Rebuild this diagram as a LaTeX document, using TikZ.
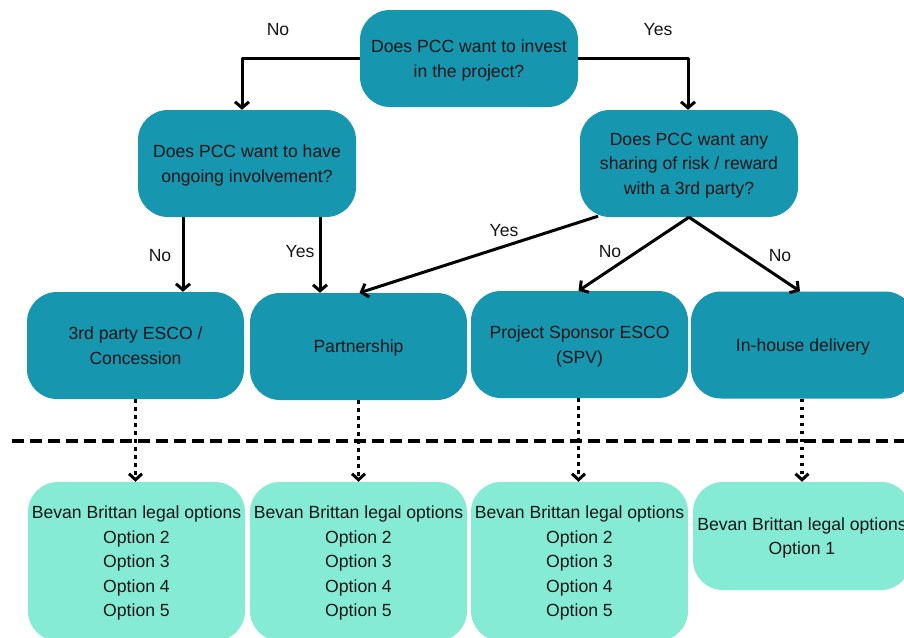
\documentclass[tikz,border=0pt]{standalone}
\usepackage{fontspec}
\setmainfont{Liberation Sans}
\usetikzlibrary{arrows.meta}
\definecolor{tealbox}{HTML}{1796B0}
\definecolor{mintbox}{HTML}{86EBD5}
\definecolor{ink}{HTML}{161616}
\begin{document}
\begin{tikzpicture}[x=1pt,y=-1pt,
  txt/.style={font=\fontsize{17.6}{24.5}\selectfont, text=ink, align=center, text depth=-1.5pt},
  qbox/.style={txt, fill=tealbox, rounded corners=30pt, inner sep=0pt, minimum width=218pt, minimum height=107pt},
  obox/.style={txt, fill=mintbox, rounded corners=30pt, inner sep=0pt, minimum width=217pt, minimum height=159pt},
  lbl/.style={font=\fontsize{17.6}{20}\selectfont, text=ink},
  arr/.style={line width=3pt, line join=round, -{Straight Barb[length=6pt,width=14pt,line width=3pt]}},
  darr/.style={line width=3.8pt, dash pattern=on 3.5pt off 4.5pt, -{Straight Barb[length=6pt,width=13pt,line width=3pt]}},
]
\clip (0,0) rectangle (904,637);
\fill[white] (0,0) rectangle (904,637);

% question boxes
\node[qbox, minimum height=97pt] (q0) at (469,58.5) {Does PCC want to invest\\in the project?};
\node[qbox] (q1) at (247,163.5) {Does PCC want to have\\ongoing involvement?};
\node[qbox] (q2) at (689,163.5) {Does PCC want any\\sharing of risk / reward\\with a 3rd party?};

% outcome boxes
\node[qbox, minimum width=217pt] (a) at (135.5,345.5) {3rd party ESCO /\\Concession};
\node[qbox, minimum width=217pt] (b) at (358.5,346.5) {Partnership};
\node[qbox, minimum width=217pt] (c) at (579.5,344.5) {Project Sponsor ESCO\\(SPV)};
\node[qbox, minimum width=224pt] (d) at (803,345) {In-house delivery};

% option boxes
\node[obox] (e) at (136.5,561.5) {Bevan Brittan legal options\\Option 2\\Option 3\\Option 4\\Option 5};
\node[obox] (f) at (358.5,561.5) {Bevan Brittan legal options\\Option 2\\Option 3\\Option 4\\Option 5};
\node[obox] (g) at (579.5,561.5) {Bevan Brittan legal options\\Option 2\\Option 3\\Option 4\\Option 5};
\node[obox, minimum width=218pt, minimum height=108pt] (h) at (802,536) {Bevan Brittan legal options\\Option 1};

% connectors
\draw[arr] (q0.west) -| ([xshift=-5pt]q1.north);
\draw[arr] (q0.east) -| ([xshift=-1pt]q2.north);
\draw[arr] ([xshift=-64pt]q1.south) -- ([xshift=-64pt]q1.south |- a.north);
\draw[arr] ([xshift=73pt]q1.south) -- ([xshift=73pt]q1.south |- b.north);
\draw[arr] ([xshift=-91pt,yshift=1pt]q2.south) -- ([xshift=1pt]b.north);
\draw[arr] (q2.south) -- ([xshift=-1pt]c.north);
\draw[arr] (q2.south) -- ([xshift=-3pt]d.north);

% labels
\node[lbl] (l1) at (278,30) {No};
\node[lbl] (l2) at (658,30) {Yes};
\node[lbl] (l3) at (160,256) {No};
\node[lbl] (l4) at (300,252) {Yes};
\node[lbl] (l5) at (504,231) {Yes};
\node[lbl] (l6) at (610,252) {No};
\node[lbl] (l7) at (780,256) {No};

% separator
\coordinate (s1) at (12,441);
\coordinate (s2) at (904,441);
\draw[line width=3.5pt, dash pattern=on 12pt off 6pt] (s1) -- (s2);

% dotted arrows
\draw[darr] (a.south) -- (a.south |- e.north);
\draw[darr] (b.south) -- (b.south |- f.north);
\draw[darr] ([xshift=-1pt]c.south) -- ([xshift=-1pt]c.south |- g.north);
\draw[darr] (h.north |- d.south) -- (h.north);
\end{tikzpicture}
\end{document}
